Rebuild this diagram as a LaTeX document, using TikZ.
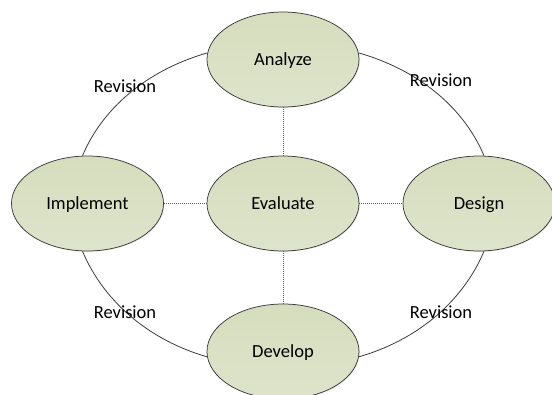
\documentclass[tikz,border=0pt]{standalone}
\usepackage{fontspec}
\setmainfont{Carlito}
\usetikzlibrary{shapes.geometric,shadows}
\definecolor{nodetop}{RGB}{214,221,189}
\definecolor{nodebot}{RGB}{222,228,203}
\definecolor{edgegray}{RGB}{60,60,60}
\definecolor{dotgray}{RGB}{90,90,90}
\tikzset{
  phase/.style={ellipse, draw=edgegray, line width=0.75pt, top color=nodetop, bottom color=nodebot,
    minimum width=152pt, minimum height=95pt, inner sep=0pt,
    text height=12pt, text depth=0pt,
    font=\fontsize{18.5}{22}\selectfont,
    drop shadow={shadow xshift=0.8pt, shadow yshift=-0.8pt, fill=black!20, opacity=0.5}},
  cycleline/.style={draw=edgegray, line width=0.8pt, looseness=0.9},
  dotline/.style={draw=dotgray, line width=0.7pt, dash pattern=on 1pt off 1pt},
  revlabel/.style={font=\fontsize{18.5}{22}\selectfont, inner sep=0pt}
}
\begin{document}
\begin{tikzpicture}[x=1pt,y=1pt]
\useasboundingbox (0,0) rectangle (552,-394);
\clip (0,0) rectangle (552,-394);
\fill[white] (0,0) rectangle (552,-394);
% nodes
\node[phase] (analyze)   at (283,-59.5) {Analyze};
\node[phase] (evaluate)  at (283,-203.5) {Evaluate};
\node[phase] (implement) at (87.5,-203.5) {Implement};
\node[phase] (design)    at (479,-203.5) {Design};
\node[phase] (develop)   at (283,-351.5) {Develop};
% outer cycle
\draw[cycleline] (analyze.175) to[out=196,in=67] (implement.96);
\draw[cycleline] (analyze.5) to[out=-16,in=113] (design.84);
\draw[cycleline] (implement.264) to[out=293,in=164] (develop.184);
\draw[cycleline] (design.276) to[out=247,in=16] (develop.356);
% dotted links
\draw[dotline] (analyze.south) -- (evaluate.north);
\draw[dotline] (evaluate.south) -- (develop.north);
\draw[dotline] (implement.east) -- (evaluate.west);
\draw[dotline] (evaluate.east) -- (design.west);
% labels
\node[revlabel] (rev1) at (125,-86) {Revision};
\node[revlabel] (rev2) at (441,-80) {Revision};
\node[revlabel] (rev3) at (125,-312) {Revision};
\node[revlabel] (rev4) at (441,-312) {Revision};
\end{tikzpicture}
\end{document}
